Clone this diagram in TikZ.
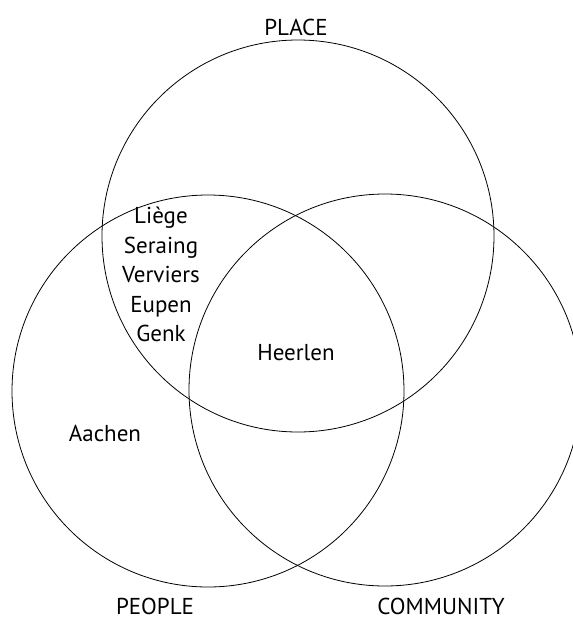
\documentclass[tikz,border=0pt]{standalone}
\usepackage{fontspec}
\setmainfont{PT Sans}
\usetikzlibrary{positioning}

\begin{document}
\begin{tikzpicture}[
    x=1pt, y=-1pt,
    set/.style={circle, draw=black, line width=0.8pt, minimum size=392pt, inner sep=0pt},
    lbl/.style={anchor=base, inner sep=0pt, font=\fontsize{23}{29.5}\selectfont},
    towns/.style={anchor=north, inner sep=0pt, align=center, font=\fontsize{23}{29.5}\selectfont}
]
\useasboundingbox (0,0) rectangle (573,619);

% the three sets
\node[set] (place) at (298,236) {};
\node[set] (people) at (208,391) {};
\node[set] (community) at (385,390) {};

% set names
\node[lbl] (placelbl) at (296,35) {PLACE};
\node[lbl] (peoplelbl) at (155,614) {PEOPLE};
\node[lbl] (communitylbl) at (441,614) {COMMUNITY};

% members
\node[towns] (belgium) at (161,207) {Liège\\Seraing\\Verviers\\Eupen\\Genk};
\node[lbl] (heerlen) at (296,360) {Heerlen};
\node[lbl] (aachen) at (105,441) {Aachen};
\end{tikzpicture}
\end{document}
